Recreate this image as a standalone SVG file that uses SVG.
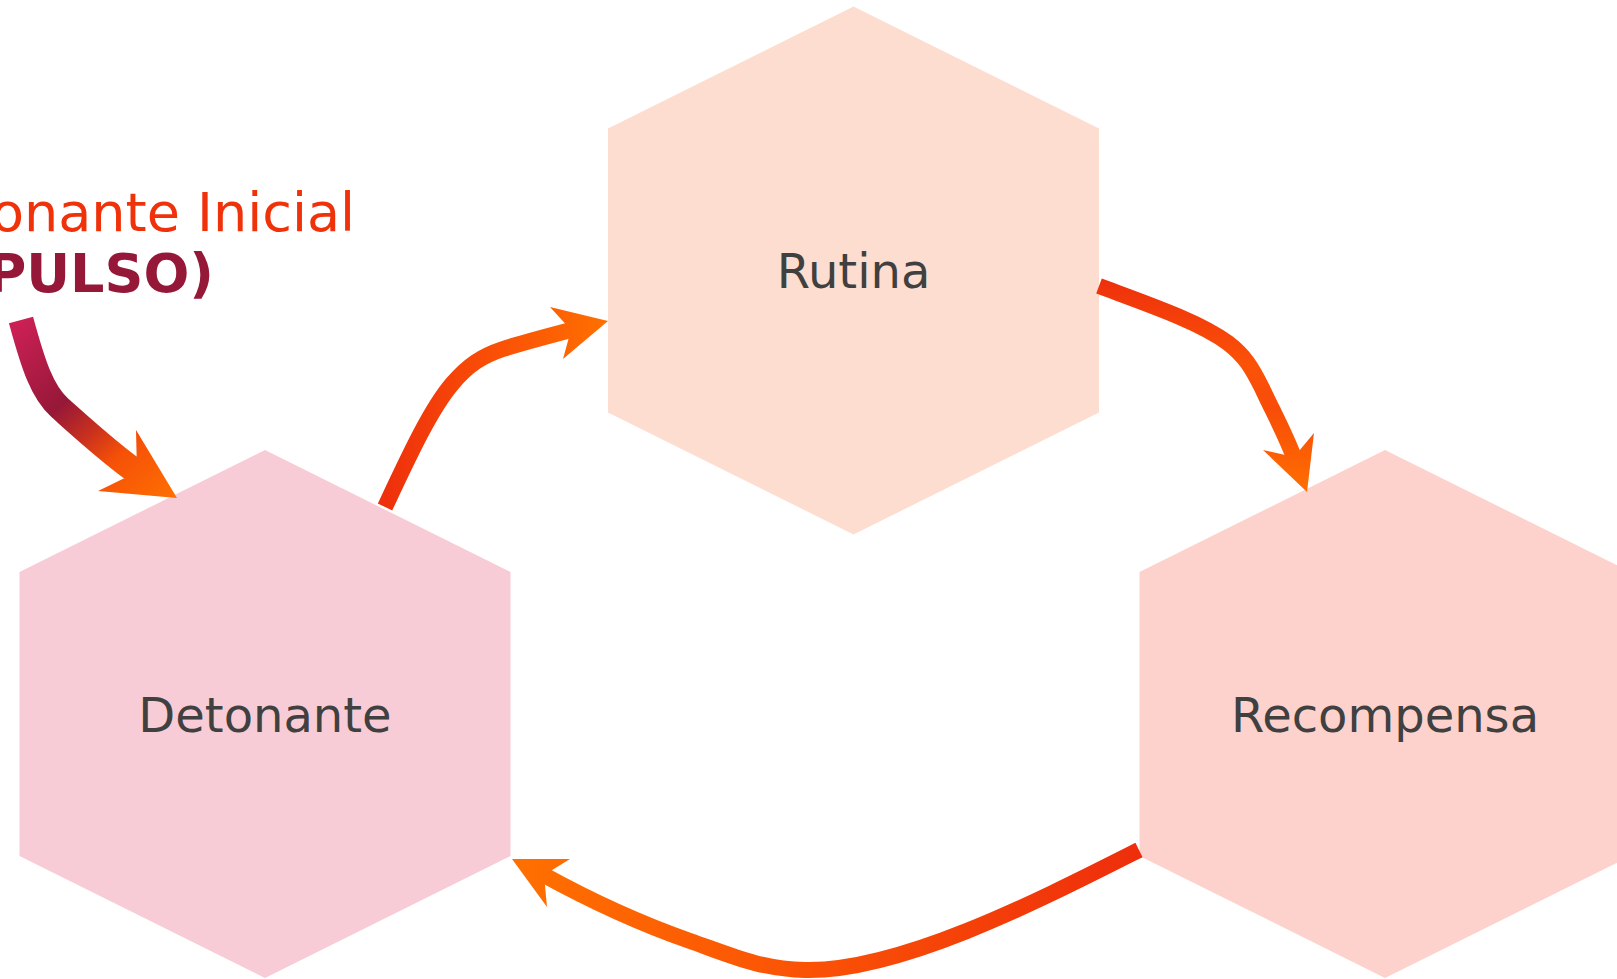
<svg xmlns="http://www.w3.org/2000/svg" width="1617" height="979" viewBox="0 0 1617 979">
  <style>
    .hex-label { font-family: "DejaVu Sans", "Noto Sans", sans-serif; font-size: 48px; fill: #404040; text-anchor: middle; }
    .title { font-family: "DejaVu Sans", "Noto Sans", sans-serif; font-size: 54px; text-anchor: end; }
    .shaft { fill: none; stroke-linecap: butt; stroke-linejoin: round; stroke-width: 16; }
    .shaft.wide { stroke-width: 25; }
  </style>
  <defs>
    <!-- hexagon: half-width 245.5, half-height 264, shoulders at +/-142 -->
    <polygon id="hex" points="0,-264 245.5,-142 245.5,142 0,264 -245.5,142 -245.5,-142"/>
    <linearGradient id="gImpulse" gradientUnits="userSpaceOnUse" x1="21" y1="320" x2="177" y2="498">
      <stop offset="0" stop-color="#CC2055"/>
      <stop offset="0.38" stop-color="#961838"/>
      <stop offset="0.55" stop-color="#C8301E"/>
      <stop offset="0.7" stop-color="#F55008"/>
      <stop offset="1" stop-color="#FF7000"/>
    </linearGradient>
    <linearGradient id="gUp" gradientUnits="userSpaceOnUse" x1="385" y1="0" x2="608" y2="0">
      <stop offset="0" stop-color="#EE300C"/>
      <stop offset="0.5" stop-color="#FA5006"/>
      <stop offset="1" stop-color="#FF7000"/>
    </linearGradient>
    <linearGradient id="gDown" gradientUnits="userSpaceOnUse" x1="0" y1="280" x2="0" y2="492">
      <stop offset="0" stop-color="#EE300C"/>
      <stop offset="0.4" stop-color="#FB5208"/>
      <stop offset="0.6" stop-color="#F84C08"/>
      <stop offset="1" stop-color="#FF6E00"/>
    </linearGradient>
    <linearGradient id="gBack" gradientUnits="userSpaceOnUse" x1="1139" y1="0" x2="512" y2="0">
      <stop offset="0" stop-color="#EE2E0C"/>
      <stop offset="0.5" stop-color="#FA5006"/>
      <stop offset="1" stop-color="#FF7000"/>
    </linearGradient>
  </defs>

  <rect width="1617" height="979" fill="#FFFFFF"/>

  <!-- heading -->
  <g id="heading">
    <text class="title" x="355" y="231" fill="#F0320A">Detonante Inicial</text>
    <text class="title" x="214" y="292" fill="#961838" font-weight="bold">(IMPULSO)</text>
  </g>

  <!-- nodes -->
  <g id="node-rutina">
    <use href="#hex" x="853.5" y="270.5" fill="#FDDDD0"/>
    <text class="hex-label" x="853.5" y="288">Rutina</text>
  </g>
  <g id="node-detonante">
    <use href="#hex" x="265" y="714" fill="#F8CCD6"/>
    <text class="hex-label" x="265" y="732">Detonante</text>
  </g>
  <g id="node-recompensa">
    <use href="#hex" x="1385" y="714" fill="#FDD2CC"/>
    <text class="hex-label" x="1385" y="732">Recompensa</text>
  </g>

  <!-- connectors -->
  <g id="connectors">
    <g id="edge-impulso">
      <path class="shaft wide" d="M21,320 C33,364 42,392 60,408 C78,424 114,457 139,473.5" stroke="url(#gImpulse)"/>
      <polygon points="177,498 136,430 137,472 98,491" fill="url(#gImpulse)"/>
    </g>
    <g id="edge-detonante-rutina">
      <path class="shaft" d="M385,507 C408,458 430,410 452,384 C468,365 482,356 503,349 C525,342 548,336 573,329.5" stroke="url(#gUp)"/>
      <polygon points="608,321 550,307 571,330 563,359" fill="url(#gUp)"/>
    </g>
    <g id="edge-rutina-recompensa">
      <path class="shaft" d="M1099,286 C1150,305 1200,322 1228,343 C1245,356 1252,368 1262,388 C1272,410 1284.6,432 1295,460" stroke="url(#gDown)"/>
      <polygon points="1307,492 1263,450 1294,457 1314,433" fill="url(#gDown)"/>
    </g>
    <g id="edge-recompensa-detonante">
      <path class="shaft" d="M1139,850 C1040,900 900,972 805,970 C760,969 730,955 690,941 C650,927 600,906 542,874" stroke="url(#gBack)"/>
      <polygon points="512,859 570,859 544,875 547,907" fill="url(#gBack)"/>
    </g>
  </g>
</svg>
